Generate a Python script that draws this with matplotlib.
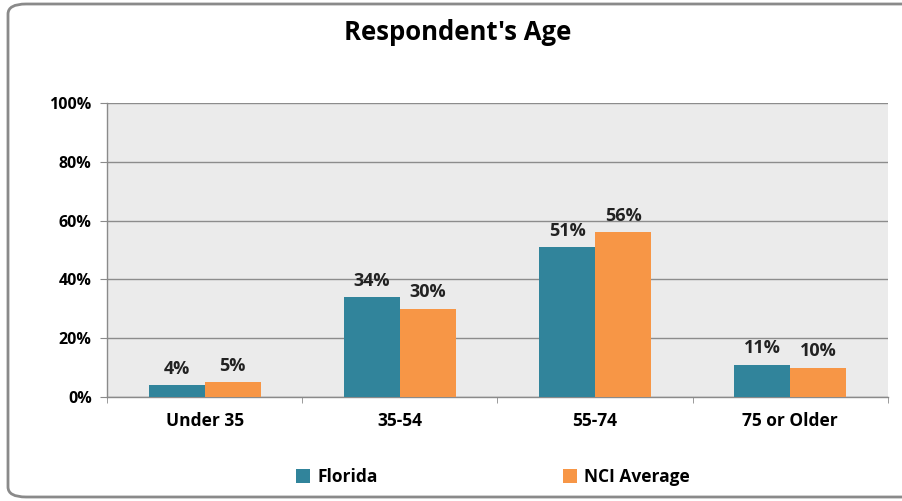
import matplotlib.pyplot as plt
import numpy as np
from matplotlib.patches import FancyBboxPatch

# Daten
categories = ['Under 35', '35-54', '55-74', '75 or Older']
florida = [4, 34, 51, 11]
nci_avg = [5, 30, 56, 10]
yticks = [0, 20, 40, 60, 80, 100]

plt.rcParams['font.family'] = ['Open Sans', 'DejaVu Sans']
plt.rcParams['font.weight'] = 'bold'

fig = plt.figure(figsize=(9.03, 5.01), dpi=100)

# Rahmen
rahmen = FancyBboxPatch((8 / 903, 4 / 501), 1.2, 493 / 501,
                        boxstyle='round,pad=0,rounding_size=0.02',
                        transform=fig.transFigure, facecolor='white',
                        edgecolor='#8a8a8a', linewidth=2, zorder=-5)
fig.patches.append(rahmen)

ax = fig.add_axes([107 / 903, 1 - 397 / 501, 781 / 903, 294 / 501])
ax.set_zorder(2)
ax.set_facecolor('#EBEBEB')

x = np.arange(len(categories))
w = 0.287
b1 = ax.bar(x - w / 2, florida, w, color='#31849B', label='Florida', zorder=3)
b2 = ax.bar(x + w / 2, nci_avg, w, color='#F79646', label='NCI Average', zorder=3)

for bars, vals in ((b1, florida), (b2, nci_avg)):
    for r, v in zip(bars, vals):
        ax.text(r.get_x() + r.get_width() / 2, v + 2.5, f'{v}%', ha='center',
                va='bottom', fontsize=13, fontweight='bold', color='#222222')

ax.set_xlim(-0.5, len(categories) - 0.5)
ax.set_ylim(0, 100)
ax.set_yticks(yticks)
ax.set_yticklabels([f'{t}%' for t in yticks], fontsize=11.5, fontweight='bold')
ax.set_xticks(x)
ax.set_xticklabels(categories, fontsize=12.5, fontweight='bold')
ax.set_xticks(np.arange(-0.5, len(categories)), minor=True)
ax.tick_params(axis='x', which='major', length=0, pad=11)
ax.tick_params(axis='x', which='minor', length=4, color='#8a8a8a')
ax.tick_params(axis='y', length=5, color='#8a8a8a', pad=6)
ax.grid(axis='y', color='#8c8c8c', linewidth=1, zorder=1)
ax.set_axisbelow(True)
for s in ('top', 'right'):
    ax.spines[s].set_visible(False)
for s in ('left', 'bottom'):
    ax.spines[s].set_color('#8a8a8a')
    ax.spines[s].set_linewidth(1)

fig.text(458 / 903, 1 - 33 / 501, "Respondent's Age", ha='center', va='center',
         fontsize=18.5, fontweight='bold')

fig.legend(handles=[b1, b2], loc='center', bbox_to_anchor=(493 / 903, 1 - 477 / 501),
           ncol=2, frameon=False, columnspacing=10.7, handlelength=0.8,
           handleheight=0.8, handletextpad=0.4, prop={'weight': 'bold', 'size': 12.5})

fig.savefig('out.png', dpi=100)
